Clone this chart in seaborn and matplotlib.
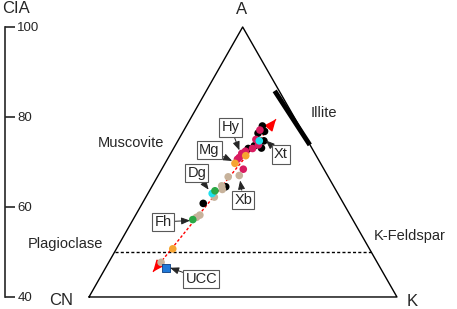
import numpy as np
import pandas as pd
import matplotlib
matplotlib.use("Agg")
import matplotlib.pyplot as plt
import seaborn as sns

# -----------------------------
# Data (x = horizontal position across CN-K base, 0..100; y = CIA)
# -----------------------------
black_x = [56.3, 57.0, 54.9, 56.8, 56.0, 53.7, 51.7, 44.4, 37.1]
black_cia = [78.0, 76.8, 76.4, 74.7, 73.1, 73.6, 73.0, 64.5, 60.8]

crimson_x = [55.5, 54.2, 55.0, 53.1, 50.8, 49.6, 48.8, 48.2, 50.1]
crimson_cia = [77.1, 75.0, 73.8, 73.0, 72.4, 71.9, 71.0, 70.6, 68.4]

cyan_x = [55.3, 40.0]
cyan_cia = [74.7, 63.0]

orange_x = [50.9, 47.4, 27.2]
orange_cia = [71.4, 69.7, 50.7]

tan_x = [48.8, 45.2, 43.1, 43.3, 40.7, 36.0, 34.9, 23.4]
tan_cia = [67.0, 66.7, 64.7, 63.9, 62.2, 58.2, 57.7, 47.7]

green_x = [40.9, 33.7]
green_cia = [63.6, 57.2]

ucc_x = [24.9]
ucc_cia = [46.5]

# trend arrow (start, end)
trend_x = [20.8, 60.7]
trend_cia = [45.6, 79.5]

# labelled samples: label, box position, arrow target
box_labels = ["Hy", "Mg", "Dg", "Fh", "Xb", "Xt", "UCC"]
box_x = [46.0, 39.0, 35.0, 24.1, 50.1, 62.3, 36.5]
box_cia = [77.7, 72.7, 67.5, 56.7, 61.6, 71.7, 44.0]
target_x = [49.0, 46.9, 39.1, 33.3, 49.0, 57.1, 25.9]
target_cia = [72.3, 70.1, 63.6, 57.0, 66.2, 75.0, 46.6]

# triangle vertices and reference lines
tri_x = [0, 100, 49.9, 0]
tri_cia = [40, 40, 100, 40]
illite_x = [60.3, 71.7]
illite_cia = [85.8, 73.8]
feldspar_x = [8.3, 91.6]
feldspar_cia = [50, 50]
cia_ticks = [40, 60, 80, 100]

colors = {
    "black": "#000000",
    "crimson": "#d81b60",
    "cyan": "#1de0ee",
    "orange": "#f6a431",
    "tan": "#c7b29b",
    "green": "#2aa845",
}

df = pd.concat([
    pd.DataFrame({"x": black_x, "cia": black_cia, "group": "black"}),
    pd.DataFrame({"x": crimson_x, "cia": crimson_cia, "group": "crimson"}),
    pd.DataFrame({"x": tan_x, "cia": tan_cia, "group": "tan"}),
    pd.DataFrame({"x": orange_x, "cia": orange_cia, "group": "orange"}),
    pd.DataFrame({"x": cyan_x, "cia": cyan_cia, "group": "cyan"}),
    pd.DataFrame({"x": green_x, "cia": green_cia, "group": "green"}),
], ignore_index=True)

# -----------------------------
# Figure
# -----------------------------
sns.set_style("white")
plt.rcParams["font.family"] = ["Liberation Sans", "DejaVu Sans"]

fig = plt.figure(figsize=(4.57, 3.09), dpi=100)
ax = fig.add_axes([0, 0, 1, 1])
ax.set_xlim(-28.9, 119.5)
ax.set_ylim(37.33, 106.0)

# triangle
ax.plot(tri_x, tri_cia, color="black", lw=1.0, zorder=1)
ax.plot(illite_x, illite_cia, color="black", lw=3.5, solid_capstyle="butt", zorder=1)
ax.plot(feldspar_x, feldspar_cia, color="black", lw=1.0, ls=(0, (2.2, 1.6)), zorder=1)

# trend line with arrow heads at both ends
ax.plot(trend_x, trend_cia, color="red", lw=1.0, ls=(0, (2, 1.5)), zorder=2)
dx = trend_x[1] - trend_x[0]
dy = trend_cia[1] - trend_cia[0]
for i, s in [(1, 1), (0, -1)]:
    ax.annotate("", xy=(trend_x[i], trend_cia[i]),
                xytext=(trend_x[i] - s * 0.04 * dx, trend_cia[i] - s * 0.04 * dy),
                arrowprops=dict(arrowstyle="-|>,head_length=0.7,head_width=0.3",
                                color="red", lw=1.0, shrinkA=0, shrinkB=0),
                zorder=2)

# samples
sns.scatterplot(data=df, x="x", y="cia", hue="group", palette=colors,
                s=30, linewidth=0, legend=False, ax=ax, zorder=3)
sns.scatterplot(x=ucc_x, y=ucc_cia, marker="s", color="#1f78d8",
                edgecolor="#0b3d80", linewidth=0.6, s=40, ax=ax, zorder=3)

# boxed labels
for lab, bx, by, tx, ty in zip(box_labels, box_x, box_cia, target_x, target_cia):
    ax.annotate(lab, xy=(tx, ty), xytext=(bx, by), ha="center", va="center",
                fontsize=10.5,
                bbox=dict(boxstyle="square,pad=0.15", fc="white", ec="0.35", lw=0.8),
                arrowprops=dict(arrowstyle="-|>,head_length=0.5,head_width=0.2",
                                color="0.15", lw=0.7, shrinkA=0, shrinkB=1),
                zorder=4)

# vertex and mineral labels
ax.text(49.4, 103.8, "A", ha="center", va="center", fontsize=12)
ax.text(-9.1, 39.2, "CN", ha="center", va="center", fontsize=12)
ax.text(104.9, 38.9, "K", ha="center", va="center", fontsize=12)
ax.text(13.6, 74.2, "Muscovite", ha="center", va="center", fontsize=10.5)
ax.text(76.3, 80.9, "Illite", ha="center", va="center", fontsize=10.5)
ax.text(-7.6, 51.7, "Plagioclase", ha="center", va="center", fontsize=10.5)
ax.text(104.0, 53.6, "K-Feldspar", ha="center", va="center", fontsize=10.5)
ax.text(-23.7, 104.1, "CIA", ha="center", va="center", fontsize=12)

# CIA scale as a real axis
for side in ["top", "bottom", "left"]:
    ax.spines[side].set_visible(False)
ax.spines["right"].set_position(("data", -27.3))
ax.spines["right"].set_bounds(40, 100)
ax.spines["right"].set_linewidth(1.2)
ax.yaxis.set_ticks_position("right")
ax.set_yticks(cia_ticks)
ax.tick_params(axis="y", direction="out", length=7, width=1.2, pad=2, labelsize=9.5)
ax.set_xticks([])
ax.set_xlabel("")
ax.set_ylabel("")

fig.savefig("out.png", dpi=100)
